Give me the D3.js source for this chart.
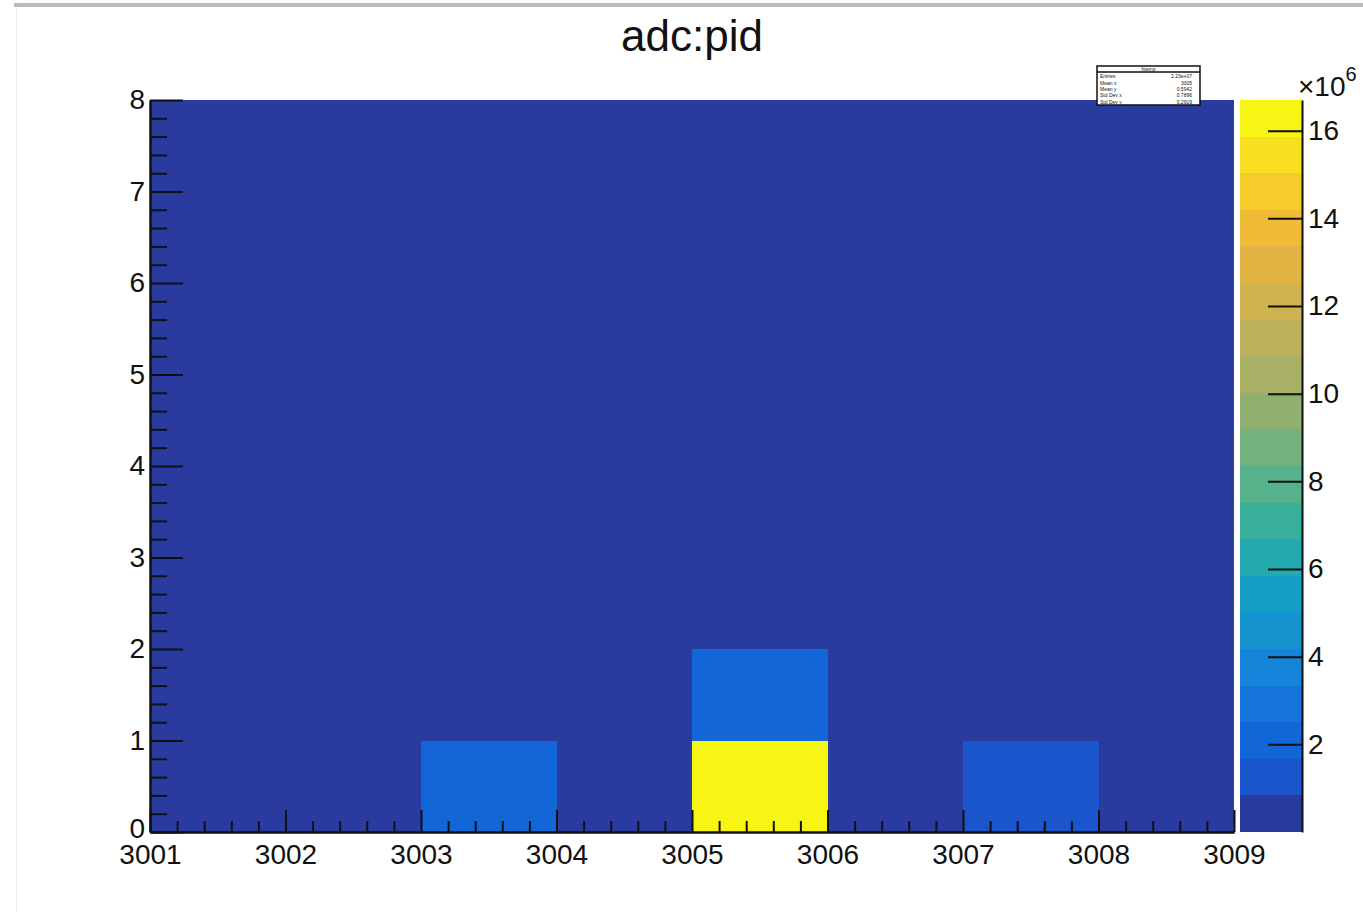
<!DOCTYPE html>
<html><head><meta charset="utf-8">
<script src="https://cdn.jsdelivr.net/npm/d3@7"></script>
<style>
body{margin:0;background:#fff}
svg{display:block}
text{font-family:"Liberation Sans",Arial,Helvetica,sans-serif;fill:#111}
</style>
</head><body>
<svg id="c" width="1363" height="912"></svg>
<script>
// ---------------- data ----------------
const title = "adc:pid";
const xBinLow = [3001, 3002, 3003, 3004, 3005, 3006, 3007, 3008];
const yBinLow = [0, 1, 2, 3, 4, 5, 6, 7];
// counts[yBin][xBin]
const counts = [
  [0, 0, 2.1e6, 0, 16.7e6, 0, 1.4e6, 0],
  [0, 0, 0,     0, 2.1e6,  0, 0,     0],
  [0, 0, 0,     0, 0,      0, 0,     0],
  [0, 0, 0,     0, 0,      0, 0,     0],
  [0, 0, 0,     0, 0,      0, 0,     0],
  [0, 0, 0,     0, 0,      0, 0,     0],
  [0, 0, 0,     0, 0,      0, 0,     0],
  [0, 0, 0,     0, 0,      0, 0,     0]
];
const xTicks = [3001, 3002, 3003, 3004, 3005, 3006, 3007, 3008, 3009];
const yTicks = [0, 1, 2, 3, 4, 5, 6, 7, 8];
const zTicks = [2, 4, 6, 8, 10, 12, 14, 16];
const zMin = 0, zMax = 16.7e6;
const zExponent = 6;
const palette = [
  "#2a3ba0", "#1a55cc", "#1366d8", "#1474dc", "#1684d8",
  "#1594d0", "#13a0c4", "#22aab0", "#38b09c", "#55b28a",
  "#73b27c", "#90b070", "#a8b066", "#bcb05c", "#d0b250",
  "#e2b444", "#f0bc38", "#f6cc2c", "#f8e020", "#f8f414"
];
const statsTitle = "htemp";
const statsRows = [
  ["Entries", "2.23e+07"],
  ["Mean x", "3005"],
  ["Mean y", "0.5942"],
  ["Std Dev x", "0.7896"],
  ["Std Dev y", "0.2919"]
];

// ---------------- layout ----------------
const F = {left: 150, right: 1234, top: 100, bottom: 832};
const CB = {left: 1240, right: 1302};

const svg = d3.select("#c");

// page decorations (screen capture edges)
svg.append("rect").attr("x", 14).attr("y", 3).attr("width", 1349).attr("height", 4).attr("fill", "#bcbcbc");
svg.append("line").attr("x1", 16.5).attr("x2", 16.5).attr("y1", 7).attr("y2", 912)
  .attr("stroke", "#ececec").attr("stroke-width", 1);

const x = d3.scaleLinear().domain([xTicks[0], xTicks[xTicks.length - 1]]).range([F.left, F.right]);
const y = d3.scaleLinear().domain([yTicks[0], yTicks[yTicks.length - 1]]).range([F.bottom, F.top]);
const color = d3.scaleQuantize().domain([zMin, zMax]).range(palette);
const zAxisScale = d3.scaleLinear().domain([zMin / 10 ** zExponent, zMax / 10 ** zExponent]).range([F.bottom, F.top]);

// ---------------- cells ----------------
const cells = [];
yBinLow.forEach((yl, j) => xBinLow.forEach((xl, i) => cells.push({x0: xl, x1: xl + 1, y0: yl, y1: yl + 1, v: counts[j][i]})));
svg.append("g").attr("shape-rendering", "crispEdges").selectAll("rect").data(cells).join("rect")
  .attr("x", d => Math.round(x(d.x0)))
  .attr("y", d => Math.round(y(d.y1)))
  .attr("width", d => Math.round(x(d.x1)) - Math.round(x(d.x0)))
  .attr("height", d => Math.round(y(d.y0)) - Math.round(y(d.y1)))
  .attr("fill", d => color(d.v));

// ---------------- axes ----------------
const font = 28;
function styleAxis(g) {
  g.select(".domain").attr("stroke", "#111").attr("stroke-width", 2);
  g.selectAll(".tick line").attr("stroke", "#111").attr("stroke-width", 2);
  g.selectAll(".tick text").attr("font-size", font).attr("fill", "#111")
    .attr("font-family", '"Liberation Sans",Arial,sans-serif');
}
const xMinor = d3.range(xTicks[0], xTicks[xTicks.length - 1], 0.2).filter(v => Math.abs(v - Math.round(v)) > 1e-6);
const yMinor = d3.range(yTicks[0], yTicks[yTicks.length - 1], 0.2).filter(v => Math.abs(v - Math.round(v)) > 1e-6);

svg.append("g").attr("transform", `translate(0,${F.bottom})`)
  .call(d3.axisBottom(x).tickValues(xMinor).tickSizeInner(-11).tickSizeOuter(0).tickFormat(""))
  .call(styleAxis);
svg.append("g").attr("transform", `translate(0,${F.bottom})`)
  .call(d3.axisBottom(x).tickValues(xTicks).tickSizeInner(-22).tickSizeOuter(0).tickPadding(12).tickFormat(d3.format("d")))
  .call(styleAxis);

svg.append("g").attr("transform", `translate(${F.left},0)`)
  .call(d3.axisLeft(y).tickValues(yMinor).tickSizeInner(-17).tickSizeOuter(0).tickFormat(""))
  .call(styleAxis);
const yAx = svg.append("g").attr("transform", `translate(${F.left},0)`)
  .call(d3.axisLeft(y).tickValues(yTicks).tickSizeInner(-33).tickSizeOuter(0).tickPadding(5).tickFormat(d3.format("d")))
  .call(styleAxis);
// the lowest label sits just above the x labels, as in ROOT
yAx.selectAll(".tick text").filter(d => d === yTicks[0]).attr("dy", "0.18em");

// ---------------- colour bar ----------------
const th = [zMin, ...color.thresholds(), zMax];
const bands = d3.range(palette.length).map(i => ({lo: th[i], hi: th[i + 1], c: color((th[i] + th[i + 1]) / 2)}));
svg.append("g").attr("shape-rendering", "crispEdges").selectAll("rect").data(bands).join("rect")
  .attr("x", CB.left)
  .attr("width", CB.right - CB.left)
  .attr("y", d => Math.round(zAxisScale(d.hi / 10 ** zExponent)))
  .attr("height", d => Math.round(zAxisScale(d.lo / 10 ** zExponent)) - Math.round(zAxisScale(d.hi / 10 ** zExponent)))
  .attr("fill", d => d.c);

svg.append("g").attr("transform", `translate(${CB.right},0)`)
  .call(d3.axisRight(zAxisScale).tickValues(zTicks).tickSizeInner(-34).tickSizeOuter(0).tickPadding(6).tickFormat(d3.format("d")))
  .call(styleAxis);

const ex = svg.append("text").attr("x", 1298).attr("y", 96).attr("font-size", font);
ex.append("tspan").text("\u00d710");
ex.append("tspan").attr("font-size", 20).attr("dy", -15).text(String(zExponent));

// ---------------- title ----------------
svg.append("text").attr("x", 692).attr("y", 51).attr("text-anchor", "middle")
  .attr("font-size", 44).text(title);

// ---------------- stats box ----------------
const SB = {x: 1097, y: 66, w: 103, h: 39};
const sb = svg.append("g");
sb.append("rect").attr("x", SB.x).attr("y", SB.y).attr("width", SB.w).attr("height", SB.h)
  .attr("fill", "#fff").attr("stroke", "#111").attr("stroke-width", 1.5);
sb.append("line").attr("x1", SB.x).attr("x2", SB.x + SB.w).attr("y1", SB.y + 6).attr("y2", SB.y + 6)
  .attr("stroke", "#111").attr("stroke-width", 1.5);
sb.append("text").attr("x", SB.x + SB.w / 2).attr("y", SB.y + 5).attr("text-anchor", "middle")
  .attr("font-size", 5).text(statsTitle);
const rowY = d3.scaleBand().domain(statsRows.map(r => r[0])).range([SB.y + 7, SB.y + SB.h]);
sb.selectAll("text.l").data(statsRows).join("text").attr("class", "l")
  .attr("x", SB.x + 3).attr("y", d => rowY(d[0]) + rowY.bandwidth() * 0.8).attr("font-size", 5).text(d => d[0]);
sb.selectAll("text.v").data(statsRows).join("text").attr("class", "v")
  .attr("x", SB.x + SB.w - 8).attr("y", d => rowY(d[0]) + rowY.bandwidth() * 0.8).attr("text-anchor", "end")
  .attr("font-size", 5).text(d => d[1]);
</script>
</body></html>
